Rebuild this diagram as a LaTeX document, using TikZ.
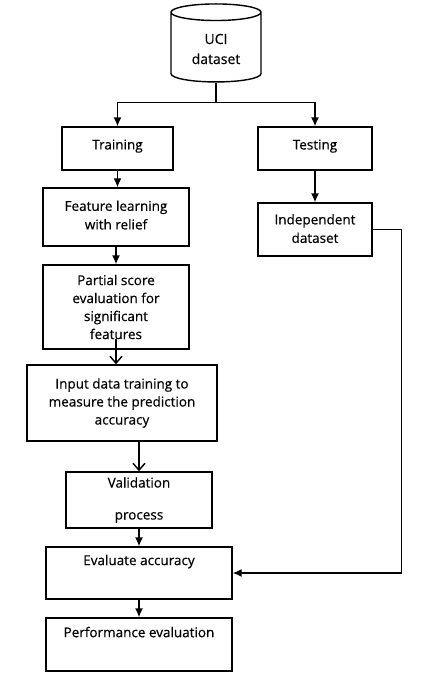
\documentclass[tikz,border=0pt]{standalone}
\usepackage{fontspec}
\setmainfont{Open Sans}[FakeBold=0.5]
\usepackage{tikz}
\usetikzlibrary{shapes.geometric,arrows.meta,positioning}
\tikzstyle{box} = [rectangle, draw=black, line width=1.4pt, align=center, inner sep=0pt, font=\fontsize{13.5}{18}\selectfont]
\tikzstyle{store} = [cylinder, shape border rotate=90, aspect=0.3, draw=black, line width=1.4pt, align=center, font=\fontsize{14}{20}\selectfont]
\tikzstyle{arrow} = [line width=1.4pt, -{Latex[length=9pt,width=8pt]}]
\tikzstyle{openarrow} = [line width=1.4pt, -{Straight Barb[length=7pt,width=12pt]}]

\begin{document}
\begin{tikzpicture}[x=1pt,y=-1pt]
\useasboundingbox (0,0) rectangle (442,678);

% DATASET
\node[store, minimum width=90pt, minimum height=78pt] (uci) at (216,49) {UCI\\dataset};

% TRAINING / TESTING
\node[box, minimum width=111pt, minimum height=43pt] (train) at (117.5,148.5) {\raisebox{8pt}{Training}};
\node[box, minimum width=114pt, minimum height=43pt] (test) at (315,148.5) {\raisebox{8pt}{Testing}};

% LEFT BRANCH
\node[box, minimum width=146pt, minimum height=58pt] (feat) at (116,217) {\raisebox{4pt}{\shortstack{Feature learning\\[2pt]with relief}}};
\node[box, minimum width=146pt, minimum height=84pt] (partial) at (116,307) {Partial score\\evaluation for\\significant\\features};
\node[box, minimum width=190pt, minimum height=76pt] (input) at (122,403) {Input data training to\\measure the prediction\\accuracy};
\node[box, minimum width=146pt, minimum height=56pt] (valid) at (139,500) {Validation\\[14pt]process};
\node[box, minimum width=186pt, minimum height=52pt,
      label={[anchor=north,yshift=-5pt,font=\fontsize{13.5}{18}\selectfont]north:Evaluate accuracy}] (eval) at (139,573) {};
\node[box, minimum width=186pt, minimum height=53pt,
      label={[anchor=north,yshift=-6pt,font=\fontsize{13.5}{18}\selectfont]north:Performance evaluation}] (perf) at (139,644.5) {};

% RIGHT BRANCH
\node[box, minimum width=114pt, minimum height=53pt] (indep) at (315,229.5) {\raisebox{2pt}{\shortstack{Independent\\[2pt]dataset}}};

% CONNECTORS
\draw[line width=1.4pt] (uci.south) -- ++(0,20) coordinate (split);
\draw[arrow] (split) -| (train.north);
\draw[arrow] (split) -| (test.north);
\draw[arrow] (train.south) -- (train.south |- feat.north);
\draw[arrow] (feat.south) -- (partial.north);
\draw[openarrow] ([yshift=11pt]partial.south) -- (partial.south |- input.north);
\draw[openarrow] (valid.north |- input.south) -- (valid.north);
\draw[arrow] (valid.south) -- (eval.north);
\draw[arrow] (eval.south) -- (perf.north);
\draw[arrow] (test.south) -- (indep.north);
\draw[arrow] (indep.east) -- ++(29,0) |- (eval.east);
\end{tikzpicture}
\end{document}
